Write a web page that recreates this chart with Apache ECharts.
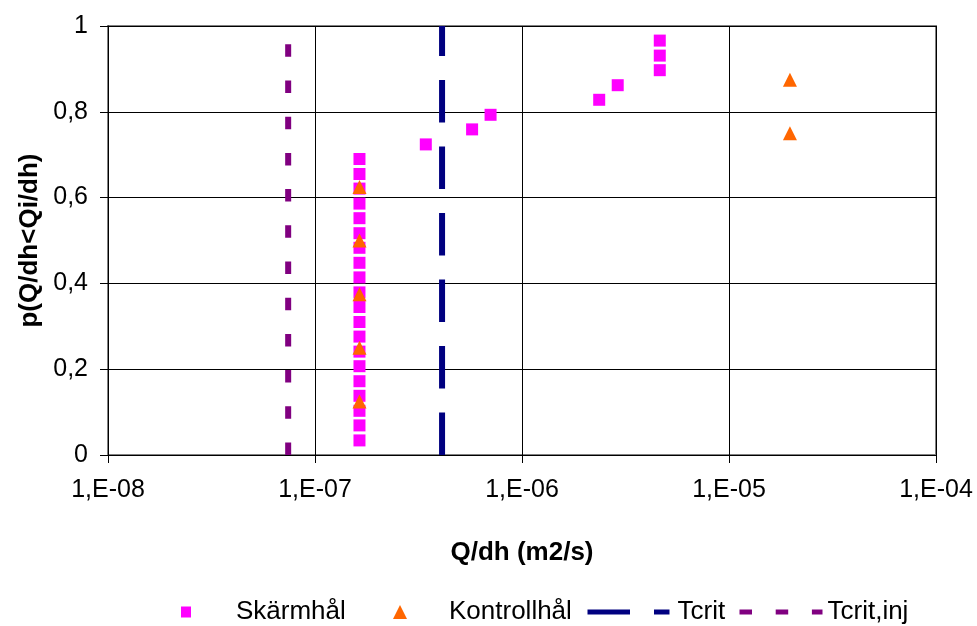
<!DOCTYPE html>
<html>
<head>
<meta charset="utf-8">
<script src="https://cdn.jsdelivr.net/npm/echarts@6/dist/echarts.min.js"></script>
<style>
  html, body { margin: 0; padding: 0; background: #fff; }
  #chart { width: 977px; height: 626px; }
</style>
</head>
<body>
<div id="chart"></div>
<script>
// Skärmhål: specific capacity vs cumulative probability
const skarmX = [
  1.64e-7, 1.64e-7, 1.64e-7, 1.64e-7, 1.64e-7, 1.64e-7, 1.64e-7, 1.64e-7, 1.64e-7, 1.64e-7,
  1.64e-7, 1.64e-7, 1.64e-7, 1.64e-7, 1.64e-7, 1.64e-7, 1.64e-7, 1.64e-7, 1.64e-7, 1.64e-7,
  3.43e-7, 5.74e-7, 7.05e-7, 2.36e-6, 2.90e-6, 4.63e-6, 4.63e-6, 4.63e-6
];
const skarmP = [
  0.034, 0.069, 0.103, 0.138, 0.172, 0.207, 0.241, 0.276, 0.310, 0.345,
  0.379, 0.414, 0.448, 0.483, 0.517, 0.552, 0.586, 0.621, 0.655, 0.690,
  0.724, 0.759, 0.793, 0.828, 0.862, 0.897, 0.931, 0.966
];

// Kontrollhål
const kontrollX = [1.64e-7, 1.64e-7, 1.64e-7, 1.64e-7, 1.64e-7, 1.97e-5, 1.97e-5];
const kontrollP = [0.125, 0.25, 0.375, 0.5, 0.625, 0.75, 0.875];

// Critical values (vertical reference lines)
const tcrit = 4.11e-7;
const tcritInj = 7.42e-8;
const refP = [0, 1];

const xTicks = ['1,E-08', '1,E-07', '1,E-06', '1,E-05', '1,E-04'];
const yTicks = ['0', '0,2', '0,4', '0,6', '0,8', '1'];

const FONT = 'Liberation Sans, Arial, sans-serif';

const pairs = (xs, ys) => xs.map((x, i) => [x, ys[i]]);

const chart = echarts.init(document.getElementById('chart'), null, { renderer: 'canvas' });

function legendAt(name, left, w, h, pad) {
  return {
    data: [name],
    left: left,
    top: 599,
    padding: 0,
    itemWidth: w,
    itemHeight: h,
    selectedMode: false,
    lineStyle: { width: 5 },
    textStyle: { fontFamily: FONT, fontSize: 26, color: '#000', padding: [0, 0, 0, pad] }
  };
}

chart.setOption({
  animation: false,
  backgroundColor: '#fff',
  grid: {
    left: 108, top: 26, right: 41, bottom: 171,
    show: true, borderColor: '#808080', borderWidth: 2, backgroundColor: 'transparent'
  },
  legend: [
    legendAt('Skärmhål', 181, 10, 11, 40),
    legendAt('Kontrollhål', 393, 14, 14, 37),
    legendAt('Tcrit', 585, 82, 5, 3),
    legendAt('Tcrit,inj', 737, 83, 5, 0)
  ],
  xAxis: {
    type: 'log',
    logBase: 10,
    min: 1e-8,
    max: 1e-4,
    name: 'Q/dh (m2/s)',
    nameLocation: 'middle',
    nameGap: 85,
    nameTextStyle: { fontFamily: FONT, fontSize: 26, fontWeight: 'bold', color: '#000' },
    axisLine: { show: true, onZero: false, lineStyle: { color: '#000', width: 1 } },
    axisTick: { show: true, inside: false, length: 8, lineStyle: { color: '#000' } },
    axisLabel: {
      fontFamily: FONT, fontSize: 25, color: '#000', margin: 23,
      formatter: v => xTicks[Math.round(Math.log10(v)) + 8]
    },
    splitLine: { show: true, lineStyle: { color: '#000', width: 1 } },
    minorTick: { show: false }
  },
  yAxis: {
    type: 'value',
    min: 0,
    max: 1,
    interval: 0.2,
    name: 'p(Q/dh<Qi/dh)',
    nameLocation: 'middle',
    nameGap: 57,
    nameTextStyle: { fontFamily: FONT, fontSize: 26, fontWeight: 'bold', color: '#000' },
    axisLine: { show: true, lineStyle: { color: '#000', width: 1 } },
    axisTick: { show: true, inside: false, length: 8, lineStyle: { color: '#000' } },
    axisLabel: {
      fontFamily: FONT, fontSize: 25, color: '#000', margin: 20,
      formatter: v => yTicks[Math.round(v * 5)]
    },
    splitLine: { show: true, lineStyle: { color: '#000', width: 1 } }
  },
  series: [
    {
      name: 'Skärmhål',
      type: 'scatter',
      symbol: 'rect',
      symbolSize: 12,
      itemStyle: { color: '#FF00FF', opacity: 1 },
      data: pairs(skarmX, skarmP),
      z: 3
    },
    {
      name: 'Kontrollhål',
      type: 'scatter',
      symbol: 'triangle',
      symbolSize: 14,
      itemStyle: { color: '#FF6600', opacity: 1 },
      data: pairs(kontrollX, kontrollP),
      z: 4
    },
    {
      name: 'Tcrit',
      type: 'line',
      symbol: 'none',
      itemStyle: { color: '#000080', opacity: 0 },
      lineStyle: { color: '#000080', width: 6, type: [42.5, 24] },
      data: refP.map(p => [tcrit, p]),
      z: 2
    },
    {
      name: 'Tcrit,inj',
      type: 'line',
      symbol: 'none',
      itemStyle: { color: '#800080', opacity: 0 },
      lineStyle: { color: '#800080', width: 6, type: [12.5, 23.7] },
      data: refP.map(p => [tcritInj, p]),
      z: 2
    }
  ]
});
</script>
</body>
</html>
